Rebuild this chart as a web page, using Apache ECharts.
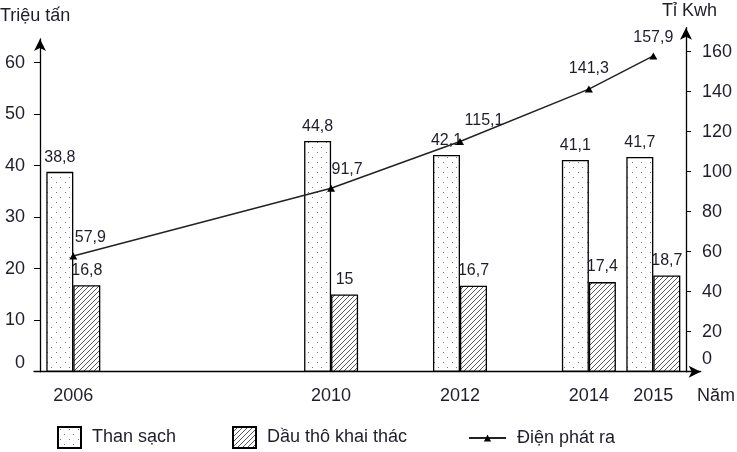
<!DOCTYPE html>
<html>
<head>
<meta charset="utf-8">
<script src="https://cdn.jsdelivr.net/npm/echarts@6/dist/echarts.min.js"></script>
<style>html,body{margin:0;padding:0;background:#fff}#c{width:737px;height:452px}</style>
</head>
<body>
<div id="c"></div>
<script>
const years = [2006, 2010, 2012, 2014, 2015];
const thanSach = [38.8, 44.8, 42.1, 41.1, 41.7];
const dauTho = [16.8, 15, 16.7, 17.4, 18.7];
const dienPhatRa = [57.9, 91.7, 115.1, 141.3, 157.9];
const leftTicks = [0, 10, 20, 30, 40, 50, 60];
const rightTicks = [0, 20, 40, 60, 80, 100, 120, 140, 160];
const seriesNames = ['Than sạch', 'Dầu thô khai thác', 'Điện phát ra'];

const FONT = "'Liberation Sans', Arial, sans-serif";
const TXT = '#1e1e2a';

function dotPattern() {
  const c = document.createElement('canvas');
  c.width = 9; c.height = 10;
  const g = c.getContext('2d');
  g.fillStyle = '#fff'; g.fillRect(0, 0, 9, 10);
  g.fillStyle = '#7a7a7a';
  g.fillRect(2, 2, 1, 1);
  g.fillRect(6, 7, 1, 1);
  return c;
}
function hatchPattern() {
  const s = 5;
  const c = document.createElement('canvas');
  c.width = s; c.height = s;
  const g = c.getContext('2d');
  g.fillStyle = '#fff'; g.fillRect(0, 0, s, s);
  g.strokeStyle = '#5a5a5a'; g.lineWidth = 1;
  g.beginPath();
  g.moveTo(-1, s + 1); g.lineTo(s + 1, -1);
  g.moveTo(-1, 1); g.lineTo(1, -1);
  g.moveTo(s - 1, s + 1); g.lineTo(s + 1, s - 1);
  g.stroke();
  return c;
}
const comma = v => String(v).replace('.', ',');

const lineLabelShift = [[17, 0], [16, 0], [24, -2], [0, -2], [0, 0]];

const chart = echarts.init(document.getElementById('c'), null, {renderer: 'canvas'});
const axisLineStyle = {color: '#000', width: 1.3};
const titleStyle = {fontFamily: FONT, fontSize: 18, fontWeight: 'normal', color: TXT};
const legendText = {fontFamily: FONT, fontSize: 18, color: TXT, padding: [0, 0, 0, 6]};
const option = {
  animation: false,
  textStyle: {fontFamily: FONT, color: TXT},
  title: [
    {text: 'Triệu tấn', left: -5, top: 2, textStyle: titleStyle},
    {text: 'Tỉ Kwh', left: 657, top: -3, textStyle: titleStyle},
    {text: 'Năm', left: 692, top: 382, textStyle: titleStyle}
  ],
  legend: [
    {data: [seriesNames[0]], icon: 'rect', left: 57, top: 426, padding: 0, itemWidth: 23, itemHeight: 21, textStyle: legendText},
    {data: [seriesNames[1]], icon: 'rect', left: 232, top: 426, padding: 0, itemWidth: 23, itemHeight: 21, textStyle: legendText},
    {data: [seriesNames[2]], left: 468, top: 429, padding: 0, itemWidth: 37, itemHeight: 9, textStyle: legendText}
  ],
  grid: [
    {left: 34, right: 36.3, top: 39, bottom: 80.3},
    {left: 34, right: 36.3, top: 27.7, bottom: 80.3}
  ],
  xAxis: [
    {type: 'value', gridIndex: 0, min: 2005.39, max: 2015.735,
     axisLine: {show: true, lineStyle: axisLineStyle, symbol: ['none', 'arrow'], symbolSize: [9, 12]},
     axisTick: {show: false}, splitLine: {show: false},
     axisLabel: {customValues: years, formatter: v => String(v), fontFamily: FONT, fontSize: 18, color: TXT, margin: 15}},
    {type: 'value', gridIndex: 1, min: 2005.39, max: 2015.735, show: false}
  ],
  yAxis: [
    {type: 'value', gridIndex: 0, position: 'left', offset: -6, min: 0, max: 64.6,
     axisLine: {show: true, lineStyle: axisLineStyle, symbol: ['none', 'arrow'], symbolSize: [9, 12]},
     axisTick: {show: true, customValues: leftTicks, length: 6, lineStyle: {color: '#000'}},
     splitLine: {show: false},
     axisLabel: {customValues: leftTicks, fontFamily: FONT, fontSize: 18, color: TXT, margin: 15,
       formatter: v => v === 0 ? '{z|0}' : String(v),
       rich: {z: {fontFamily: FONT, fontSize: 18, color: TXT, padding: [0, 0, 18, 0]}}}},
    {type: 'value', gridIndex: 1, position: 'right', offset: -14.7, min: 0, max: 172,
     axisLine: {show: true, lineStyle: axisLineStyle, symbol: ['none', 'arrow'], symbolSize: [9, 12]},
     axisTick: {show: true, customValues: rightTicks, length: 5, lineStyle: {color: '#000'}},
     splitLine: {show: false},
     axisLabel: {customValues: rightTicks, fontFamily: FONT, fontSize: 18, color: TXT, margin: 16,
       formatter: v => v === 0 ? '{z|0}' : String(v),
       rich: {z: {fontFamily: FONT, fontSize: 18, color: TXT, padding: [0, 0, 26, 0]}}}}
  ],
  series: [
    {name: seriesNames[0], type: 'bar', xAxisIndex: 0, yAxisIndex: 0, barWidth: 27, barGap: '0%',
     data: years.map((y, i) => [y, thanSach[i]]),
     itemStyle: {color: {image: dotPattern(), repeat: 'repeat'}, borderColor: '#000', borderWidth: 1.3},
     label: {show: true, position: 'top', distance: 6, fontFamily: FONT, fontSize: 16, color: TXT,
       formatter: p => comma(p.value[1])}},
    {name: seriesNames[1], type: 'bar', xAxisIndex: 0, yAxisIndex: 0, barWidth: 27, barGap: '0%',
     data: years.map((y, i) => [y, dauTho[i]]),
     itemStyle: {color: {image: hatchPattern(), repeat: 'repeat'}, borderColor: '#000', borderWidth: 1.3},
     label: {show: true, position: 'top', distance: 7, fontFamily: FONT, fontSize: 16, color: TXT,
       formatter: p => comma(p.value[1])}},
    {name: seriesNames[2], type: 'line', xAxisIndex: 1, yAxisIndex: 1, z: 5,
     data: years.map((y, i) => ({value: [y, dienPhatRa[i]], label: {offset: lineLabelShift[i]}})),
     symbol: 'triangle', symbolSize: [8, 7],
     lineStyle: {color: '#222', width: 1.5},
     itemStyle: {color: '#000'},
     label: {show: true, position: 'top', distance: 7, fontFamily: FONT, fontSize: 16, color: TXT,
       formatter: p => comma(p.value[1])}}
  ]
};
chart.setOption(option);
</script>
</body>
</html>
